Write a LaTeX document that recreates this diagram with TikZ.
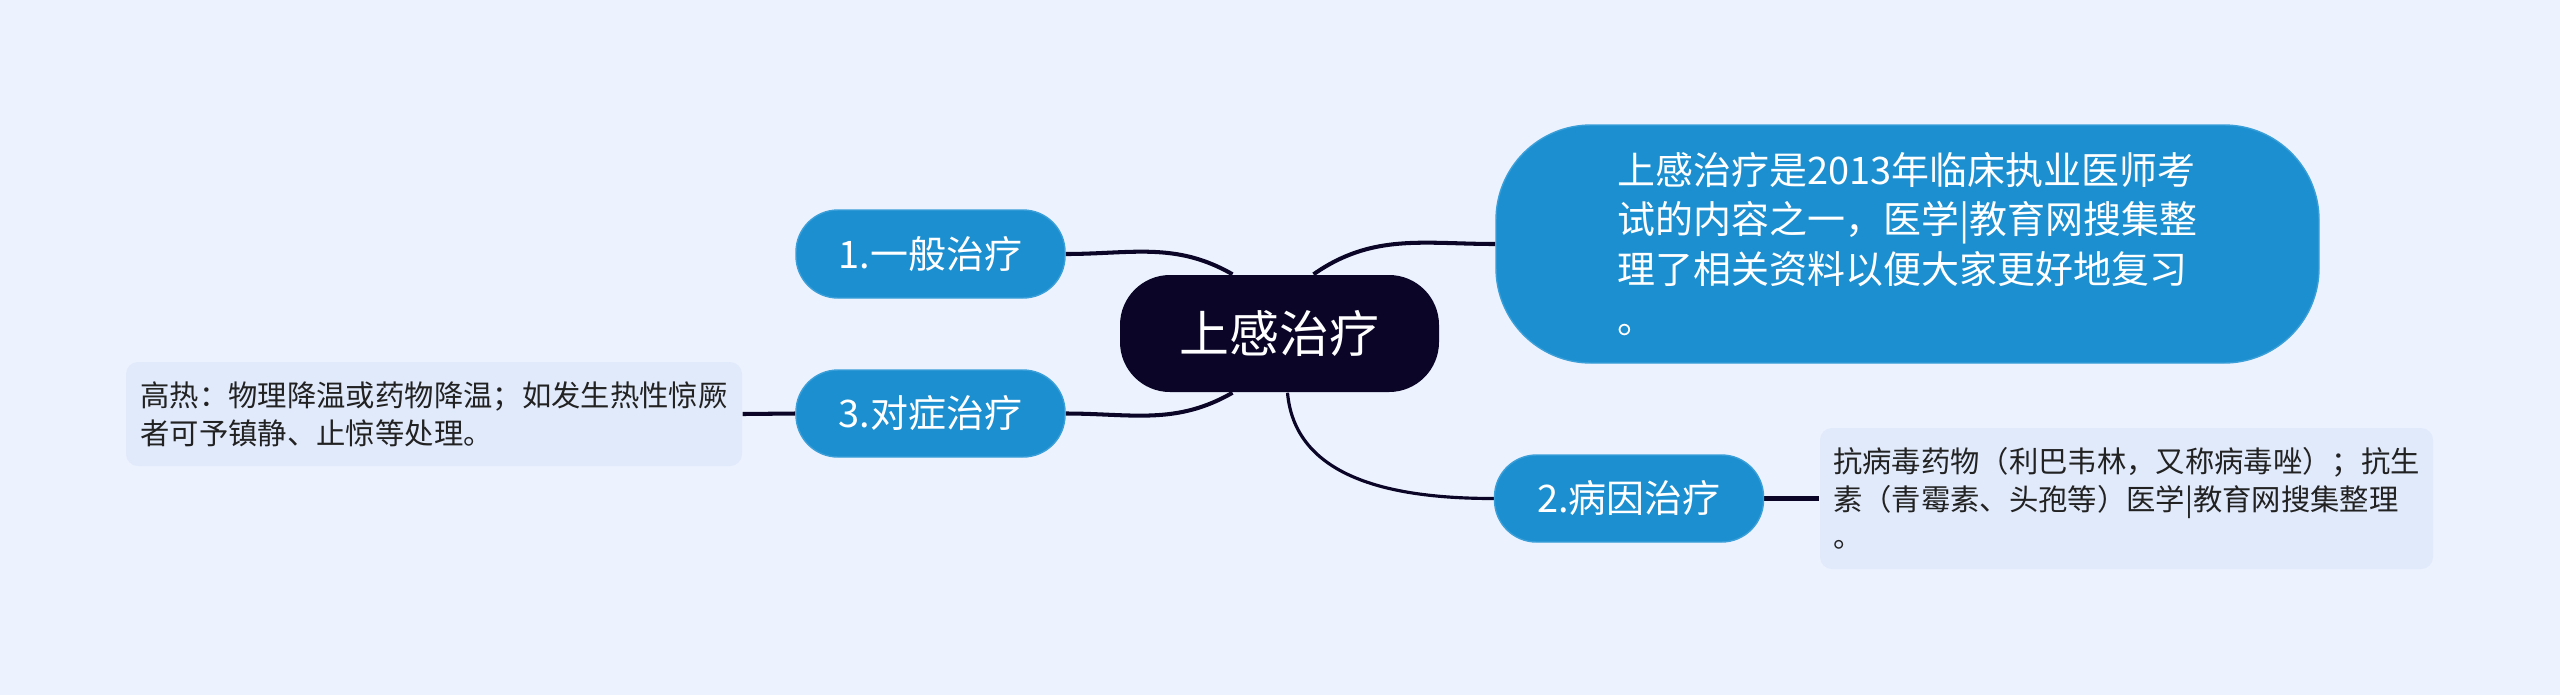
\documentclass[tikz,border=0pt]{standalone}
\usepackage{fontspec}
\setmainfont{Noto Sans CJK SC}
\usepackage{xcolor}
\usepackage{tikz}
\usetikzlibrary{backgrounds}
\definecolor{mapbg}{HTML}{ECF2FE}
\definecolor{mapnavy}{HTML}{0B0628}
\definecolor{mapblue}{HTML}{1B8FD0}
\definecolor{maprim}{HTML}{3A9FD8}
\definecolor{mapnote}{HTML}{E1EAFB}
\definecolor{maptext}{HTML}{222222}

\begin{document}
\begin{tikzpicture}[
  rootbox/.style={fill=mapnavy, text=white, rounded corners=0.5cm,
                  minimum width=3.19cm, minimum height=1.17cm, inner sep=0pt,
                  font=\fontsize{14.2pt}{17pt}\selectfont},
  topic/.style={fill=mapblue, draw=maprim, thin, text=white, align=left,
                minimum width=#1, inner sep=0pt,
                font=\fontsize{10.8pt}{14.2pt}\selectfont},
  note/.style={fill=mapnote, text=maptext, rounded corners=0.12cm, align=left,
               minimum width=#1, inner sep=0pt,
               font=\fontsize{8.35pt}{10.7pt}\selectfont},
  link/.style={draw=mapnavy, line width=1.15pt},
]
  \useasboundingbox (0,0) rectangle (25.6,-6.95);

  % --- central topic and branches ----------------------------------
  \node[rootbox] (root) at (12.795,-3.335) {上感治疗};
  \node[topic=2.69cm, minimum height=0.88cm, rounded corners=0.42cm] (gen) at (9.305,-2.54) {1.一般治疗};
  \node[topic=2.69cm, minimum height=0.87cm, rounded corners=0.42cm] (sym) at (9.305,-4.135) {3.对症治疗};
  \node[topic=2.69cm, minimum height=0.87cm, rounded corners=0.42cm] (cause) at (16.29,-4.985) {2.病因治疗};
  \node[topic=8.23cm, minimum height=2.38cm, rounded corners=0.95cm] (intro) at (19.075,-2.44)
    {上感治疗是2013年临床执业医师考\\试的内容之一，医学|教育网搜集整\\理了相关资料以便大家更好地复习\\。};

  % --- detail notes ------------------------------------------------
  \node[note=6.16cm, minimum height=1.04cm] (symnote) at (4.34,-4.14)
    {高热：物理降温或药物降温；如发生热性惊厥\\者可予镇静、止惊等处理。};
  \node[note=6.13cm, minimum height=1.41cm] (causenote) at (21.265,-4.985)
    {抗病毒药物（利巴韦林，又称病毒唑）；抗生\\素（青霉素、头孢等）医学|教育网搜集整理\\。};

  % --- connectors (behind the boxes) -------------------------------
  \begin{scope}[on background layer]
    \fill[mapbg] (0,0) rectangle (25.6,-6.95);
    \draw[link] (gen.east) to[out=0, in=150] ([xshift=-0.47cm]root.north);
    \draw[link] ([xshift=0.34cm]root.north) to[out=35, in=180] (intro.west);
    \draw[link] ([xshift=-0.47cm]root.south) to[out=210, in=0] (sym.east);
    \draw[link, line width=0.9pt] ([xshift=0.08cm]root.south) to[out=-85, in=180] (cause.west);
    \draw[link] (sym.west) -- (symnote.east);
    \draw[link] (cause.east) -- (causenote.west);
  \end{scope}
\end{tikzpicture}
\end{document}
